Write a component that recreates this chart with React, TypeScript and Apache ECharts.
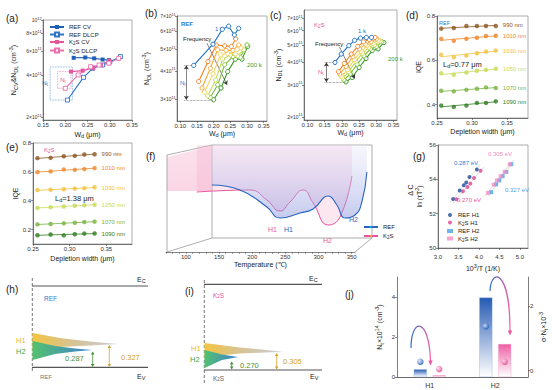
import React, { useEffect, useRef } from 'react';
import * as echarts from 'echarts';

const FONT = '"Liberation Sans", Arial, Helvetica, sans-serif';
const BLUE = '#1f5fb8';
const PINK = '#e8559c';
const LBLUE = '#4ea3e2';
const LPINK = '#f38fc4';
const L = (v: number) => Math.log10(v);

// ---------- (a) CV / DLCP ----------
const aXTicks = [0.15, 0.2, 0.25, 0.3, 0.35];
const aYTicks = [2, 4, 6, 8, 10]; // x10^11 cm^-3
const aRefCvX = [0.219, 0.245, 0.265, 0.284, 0.298];
const aRefCvY = [5.35, 5.38, 5.3, 5.2, 5.15];
const aRefDlX = [0.205, 0.241, 0.262, 0.284, 0.3, 0.324];
const aRefDlY = [2.66, 3.87, 4.5, 4.75, 5.0, 5.46];
const aK2sCvX = [0.213, 0.239, 0.262, 0.28, 0.298];
const aK2sCvY = [4.26, 4.33, 4.5, 4.75, 5.1];
const aK2sDlX = [0.2, 0.229, 0.257, 0.276, 0.298, 0.32];
const aK2sDlY = [3.23, 4.03, 4.62, 4.75, 4.89, 5.3];

// ---------- (b) REF DLCP vs frequency ----------
const freqColors = ['#1f6fc5', '#f08424', '#f5ac3a', '#f3d35c', '#c2d94e', '#7bbf3c', '#3a9a2a'];
const bXTicks = [0.1, 0.15, 0.2, 0.25, 0.3, 0.35];
const bYTicks = [3, 4, 5, 6, 7];
const bX = [
  [0.14, 0.198, 0.226, 0.245, 0.262, 0.275],
  [0.155, 0.183, 0.208, 0.233, 0.253, 0.266],
  [0.165, 0.19, 0.212, 0.237, 0.258, 0.275],
  [0.172, 0.198, 0.22, 0.242, 0.265, 0.282],
  [0.182, 0.206, 0.227, 0.25, 0.272, 0.29],
  [0.19, 0.212, 0.233, 0.258, 0.28, 0.3],
  [0.2, 0.222, 0.242, 0.265, 0.285, 0.302],
];
const bY = [
  [4.23, 5.25, 6.11, 6.31, 5.77, 6.17],
  [3.59, 4.4, 5.21, 5.16, 5.13, 5.54],
  [3.36, 4.11, 4.96, 4.93, 4.93, 5.21],
  [3.22, 3.88, 4.71, 4.79, 4.76, 5.05],
  [3.1, 3.65, 4.51, 4.71, 4.66, 4.96],
  [3.05, 3.47, 4.26, 4.63, 4.6, 5.21],
  [2.98, 3.36, 3.97, 4.51, 4.51, 5.13],
];

// ---------- (c) K2S DLCP vs frequency ----------
const cYTicks = [2, 3, 4, 5, 6, 7];
const cX = [
  [0.18, 0.198, 0.22, 0.237, 0.254, 0.271, 0.286],
  [0.19, 0.207, 0.227, 0.246, 0.263, 0.28, 0.296],
  [0.194, 0.212, 0.232, 0.251, 0.268, 0.285, 0.301],
  [0.198, 0.216, 0.236, 0.256, 0.273, 0.29, 0.306],
  [0.202, 0.22, 0.24, 0.26, 0.278, 0.295, 0.311],
  [0.206, 0.224, 0.244, 0.264, 0.283, 0.3, 0.316],
  [0.212, 0.23, 0.25, 0.27, 0.288, 0.305, 0.322],
];
const cY = [
  [4.0, 4.45, 4.95, 5.3, 5.45, 5.5, 5.5],
  [3.55, 3.95, 4.45, 4.9, 5.2, 5.35, 5.5],
  [3.45, 3.8, 4.3, 4.75, 5.05, 5.2, 5.4],
  [3.35, 3.65, 4.15, 4.6, 4.95, 5.1, 5.3],
  [3.28, 3.55, 4.05, 4.5, 4.85, 5.0, 5.25],
  [3.2, 3.45, 3.9, 4.35, 4.75, 4.9, 5.2],
  [3.12, 3.3, 3.75, 4.2, 4.65, 4.75, 5.15],
];

// ---------- (d)/(e) IQE ----------
const wlNames = ['990 nm', '1010 nm', '1030 nm', '1050 nm', '1070 nm', '1090 nm'];
const wlColors = ['#8e5520', '#f0862a', '#f3c13f', '#c8da55', '#79b443', '#2f7d21'];
const iqeXTicks = [0.25, 0.3, 0.35];
const dYTicks = [0.4, 0.6, 0.8];
const eYTicks = [0.2, 0.4, 0.6, 0.8];
const dX = [0.256, 0.274, 0.292, 0.307, 0.32, 0.334];
const dY = [
  [0.743, 0.746, 0.755, 0.755, 0.755, 0.755],
  [0.697, 0.688, 0.697, 0.702, 0.71, 0.711],
  [0.625, 0.614, 0.622, 0.632, 0.64, 0.644],
  [0.542, 0.535, 0.545, 0.553, 0.557, 0.562],
  [0.463, 0.46, 0.467, 0.472, 0.478, 0.475],
  [0.396, 0.39, 0.396, 0.408, 0.408, 0.415],
];
const eX = [0.256, 0.274, 0.292, 0.307, 0.32, 0.334];
const eY = [
  [0.695, 0.697, 0.708, 0.711, 0.72, 0.722],
  [0.598, 0.603, 0.617, 0.614, 0.619, 0.626],
  [0.474, 0.476, 0.479, 0.484, 0.487, 0.493],
  [0.35, 0.355, 0.36, 0.365, 0.368, 0.372],
  [0.236, 0.239, 0.243, 0.247, 0.252, 0.255],
  [0.161, 0.166, 0.16, 0.168, 0.172, 0.173],
];

// ---------- (f) DLTS-like spectra ----------
const fTicks = [100, 150, 200, 250, 300, 350];
const fRefT = [117, 162, 205, 226, 258, 279, 303, 317, 330, 346, 357, 365];
const fRefV = [53, 48, 31, 20, 25, 29, 42, 33, 20, 23, 36, 66];
const fK2sT = [93, 178, 205, 226, 242, 263, 279, 303, 322, 341];
const fK2sV = [46, 48, 38, 27, 36, 48, 35, 13, 21, 62];

// ---------- (g) Arrhenius ----------
const gXTicks = [3.0, 3.5, 4.0, 4.5, 5.0];
const gRefH1X = [3.37, 3.53, 3.63, 3.69, 3.77, 3.95];
const gRefH1Y = [52.86, 53.35, 53.65, 53.81, 54.14, 54.57];
const gK2sH1X = [3.45, 3.61, 3.72, 3.79, 3.88, 4.04];
const gK2sH1Y = [52.84, 53.31, 53.55, 53.75, 54.08, 54.5];
const gRefH2X = [4.3, 4.42, 4.5, 4.58, 4.67, 4.79];
const gRefH2Y = [53.25, 53.71, 53.94, 54.18, 54.43, 54.88];
const gK2sH2X = [4.22, 4.36, 4.44, 4.53, 4.63, 4.75];
const gK2sH2Y = [53.21, 53.69, 53.94, 54.18, 54.43, 54.88];

// ---------- (j) trap densities ----------
const jCats = ['H1', 'H2'];
const jLeftTicks = [0, 2, 4];
const jRightTicks = [0, 2];
const jRefNt = [0.38, 3.97];
const jK2sNt = [0.08, 1.65];
const jRefSig = [0.27, 1.37];
const jK2sSig = [0.045, 0.27];

const RICH = {
  sup: { fontSize: 4.5, padding: [0, 0, 4, 0] },
  sub: { fontSize: 4.5, padding: [3, 0, 0, 0] },
};
const RICHS = {
  sup: { fontSize: 3.8, padding: [0, 0, 3, 0] },
  sub: { fontSize: 3.8, padding: [3, 0, 0, 0] },
};
const RICH2 = {
  sup: { fontSize: 5.5, padding: [0, 0, 5, 0] },
  sub: { fontSize: 5.5, padding: [4, 0, 0, 0] },
};

const pair = (xs: number[], ys: number[], f = (v: number) => v) => xs.map((x, i) => [x, f(ys[i])]);

function fit(xs: number[], ys: number[], x0: number, x1: number) {
  const n = xs.length;
  const mx = xs.reduce((a, b) => a + b, 0) / n;
  const my = ys.reduce((a, b) => a + b, 0) / n;
  let sxy = 0, sxx = 0;
  for (let i = 0; i < n; i++) { sxy += (xs[i] - mx) * (ys[i] - my); sxx += (xs[i] - mx) ** 2; }
  const b = sxy / sxx;
  const a = my - b * mx;
  return [[x0, a + b * x0], [x1, a + b * x1]];
}

const lab = { fontSize: 6, color: '#333', fontFamily: FONT, margin: 2, rich: RICH };
const axLine = { show: true, onZero: false, lineStyle: { color: '#444', width: 0.7 } };
const tick = (vals?: number[]) => ({ show: true, length: 2, lineStyle: { color: '#444', width: 0.6 }, ...(vals ? { customValues: vals } : {}) });
const nameStyle = (size = 7) => ({ fontSize: size, color: '#222', fontFamily: FONT, rich: RICH2 });

function vAxis(grid: number, min: number, max: number, ticks: number[], fmt: any, name?: string, nameGap?: number, extra: any = {}) {
  return {
    type: 'value', gridIndex: grid, min, max,
    axisLine: axLine, axisTick: tick(ticks),
    axisLabel: { ...lab, customValues: ticks, formatter: fmt },
    splitLine: { show: false },
    name, nameLocation: 'middle', nameGap, nameTextStyle: nameStyle(7),
    ...extra,
  };
}
const f2 = (v: number) => v.toFixed(2);
const f1 = (v: number) => v.toFixed(1);
const logFmt = (v: number) => {
  const m = Math.round(Math.pow(10, v));
  return m === 10 ? '10{sup|12}' : `${m}×10{sup|11}`;
};
const logLab = (ticks: number[]) => ({ axisLabel: { ...lab, fontSize: 5, rich: RICHS, margin: 1.5, customValues: ticks, formatter: logFmt } });
const k2s = (s: string) => s.replace('K2S', 'K{sub|2}S');

const T = (text: string, x: number, y: number, o: any = {}) => ({
  type: 'text', x, y, rotation: o.rot || 0, silent: true,
  style: {
    text, fill: o.color || '#222', fontSize: o.size || 6, fontFamily: FONT,
    fontWeight: o.weight || 'normal', align: o.align || 'left', verticalAlign: 'middle',
    rich: o.size && o.size >= 7 ? RICH2 : RICH,
  },
});
const Ln = (x1: number, y1: number, x2: number, y2: number, stroke: string, lw = 0.8, dash?: number[]) => ({
  type: 'line', silent: true, shape: { x1, y1, x2, y2 }, style: { stroke, lineWidth: lw, lineDash: dash },
});
function dArrow(x: number, y1: number, y2: number, color: string) {
  return [
    Ln(x, y1 + 2, x, y2 - 2, color, 0.8),
    { type: 'polygon', silent: true, shape: { points: [[x - 1.8, y1 + 3], [x + 1.8, y1 + 3], [x, y1]] }, style: { fill: color } },
    { type: 'polygon', silent: true, shape: { points: [[x - 1.8, y2 - 3], [x + 1.8, y2 - 3], [x, y2]] }, style: { fill: color } },
  ];
}
const grad = (x2: number, y2: number, c0: string, c1: string) =>
  new echarts.graphic.LinearGradient(0, 0, x2, y2, [{ offset: 0, color: c0 }, { offset: 1, color: c1 }]);

function buildOption() {
  const gridBase = { show: true, borderColor: '#777', borderWidth: 0.6, backgroundColor: 'transparent', outerBoundsMode: 'none', containLabel: false };
  const grid = [
    { ...gridBase, left: 43, top: 20, width: 89, height: 100 },   // a
    { ...gridBase, left: 177, top: 16, width: 90, height: 105 },  // b
    { ...gridBase, left: 304, top: 10, width: 93, height: 110 },  // c
    { ...gridBase, left: 437, top: 16, width: 91, height: 102 },  // d
    { ...gridBase, left: 33, top: 143, width: 99, height: 101 },  // e
    { ...gridBase, show: false, left: 170, top: 145, width: 200, height: 93 }, // f curves
    { ...gridBase, show: false, left: 166, top: 150, width: 189, height: 102 }, // f front axis
    { ...gridBase, left: 438, top: 145, width: 90, height: 103 }, // g
    { ...gridBase, show: false, left: 397, top: 277, width: 131, height: 100 }, // j
  ];

  const xAxis: any[] = [
    vAxis(0, 0.15, 0.35, aXTicks, f2, 'W{sub|d} (μm)', 9),
    vAxis(1, 0.09, 0.36, bXTicks, f2, 'W{sub|d} (μm)', 7),
    vAxis(2, 0.09, 0.36, bXTicks, f2, 'W{sub|d} (μm)', 7),
    vAxis(3, 0.25, 0.38, iqeXTicks, f2, 'Depletion width (μm)', 10),
    vAxis(4, 0.25, 0.385, iqeXTicks, f2, 'Depletion width (μm)', 11),
    { type: 'value', gridIndex: 5, min: 50, max: 370, show: false },
    vAxis(6, 70, 355, fTicks, (v: number) => String(v), 'Temperature (℃)', 9, {
      axisTick: { show: true, length: 2, lineStyle: { color: '#555', width: 0.5 }, customValues: Array.from({ length: 29 }, (_, i) => 70 + i * 10) },
      axisLine: { show: true, onZero: false, lineStyle: { color: '#666', width: 0.8 } },
    }),
    vAxis(7, 3.0, 5.2, gXTicks, f1, '10{sup|3}/T (1/K)', 15, { axisLabel: { ...lab, margin: 6, customValues: gXTicks, formatter: f1 } }),
    {
      type: 'category', gridIndex: 8, data: jCats,
      axisLine: { show: true, lineStyle: { color: '#444', width: 0.8 } },
      axisTick: { show: false },
      axisLabel: { fontSize: 7, color: '#333', fontFamily: FONT, margin: 5 },
    },
  ];

  const yAxis: any[] = [
    vAxis(0, 0.2816, 1, aYTicks.map(L), logFmt, 'N{sub|CV}&N{sub|DL} (cm{sup|-3})', 24, logLab(aYTicks.map(L))),
    vAxis(1, L(2.4), L(7), bYTicks.map(L), logFmt, 'N{sub|DL} (cm{sup|-3})', 25, logLab(bYTicks.map(L))),
    vAxis(2, L(1.92), L(7.8), cYTicks.map(L), logFmt, 'N{sub|DL} (cm{sup|-3})', 18, logLab(cYTicks.map(L))),
    vAxis(3, 0.34, 0.8, dYTicks, f1, 'IQE', 15),
    vAxis(4, 0.1, 0.8, eYTicks, f1, 'IQE', 10),
    { type: 'value', gridIndex: 5, min: 0, max: 93, show: false },
    { type: 'value', gridIndex: 6, min: 0, max: 1, show: false },
    vAxis(7, 50, 56, [50, 52, 54, 56], (v: number) => String(v), 'ln (τT{sup|2})', 13),
    vAxis(8, 0, 5, jLeftTicks, (v: number) => String(v), 'N{sub|t}×10{sup|14} (cm{sup|-3})', 12),
    vAxis(8, -0.2, 2.9, jRightTicks, (v: number) => String(v), 'σ·N{sub|t}×10{sup|-3}', 10, { position: 'right', nameRotate: 90 }),
  ];

  const series: any[] = [];
  // (a)
  const aSer = (name: string, xs: number[], ys: number[], color: string, open: boolean, extra: any = {}) => ({
    type: 'line', name, xAxisIndex: 0, yAxisIndex: 0, data: pair(xs, ys, L),
    symbol: 'rect', symbolSize: 4,
    itemStyle: open ? { color: '#fff', borderColor: color, borderWidth: 0.9 } : { color },
    lineStyle: { color, width: 1.1 }, ...extra,
  });
  series.push(aSer('REF CV', aRefCvX, aRefCvY, BLUE, false));
  series.push(aSer('REF DLCP', aRefDlX, aRefDlY, '#2f74c8', true, {
    markArea: {
      silent: true,
      itemStyle: { color: 'rgba(0,0,0,0)', borderColor: '#5b9bd5', borderWidth: 0.8, borderType: 'dotted' },
      label: { show: true, position: 'left', formatter: 'N{sub|t}', fontSize: 6, color: '#2a6ab8', rich: RICH, distance: 2, fontFamily: FONT },
      data: [[{ coord: [0.166, L(2.66)] }, { coord: [0.216, L(4.6)] }]],
    },
  }));
  series.push(aSer('K2S CV', aK2sCvX, aK2sCvY, PINK, false));
  series.push(aSer('K2S DLCP', aK2sDlX, aK2sDlY, '#ee6fb0', true, {
    markArea: {
      silent: true,
      itemStyle: { color: 'rgba(0,0,0,0)', borderColor: '#ee7fb5', borderWidth: 0.8, borderType: 'dotted' },
      label: { show: true, position: 'insideLeft', formatter: 'N{sub|t}', fontSize: 6, color: PINK, rich: RICH, distance: 3, fontFamily: FONT },
      data: [[{ coord: [0.183, L(3.23)] }, { coord: [0.213, L(4.26)] }]],
    },
  }));

  // (b) and (c)
  const dotted = { type: 'dotted', color: '#666', width: 0.7 };
  const freqSeries = (grid: number, xs: number[][], ys: number[][], marks: any) => {
    xs.forEach((xArr, i) => {
      const c = freqColors[i];
      series.push({
        type: 'line', name: `f${grid}-${i}`, xAxisIndex: grid, yAxisIndex: grid,
        data: pair(xArr, ys[i], L), symbol: 'circle', symbolSize: 4.2,
        itemStyle: { color: '#fff', borderColor: c, borderWidth: 1 },
        lineStyle: { color: c, width: 1.1 }, z: 10 - i,
        ...(i === 0 ? { markLine: marks } : {}),
      });
    });
  };
  const mkMarks = (nx0: number, nx1: number, nx2: number, yTop: number, yBot: number, ax: number, fr: number[][]) => ({
    silent: true, symbol: ['none', 'none'], label: { show: false }, lineStyle: dotted,
    data: [
      [{ coord: [nx0, L(yTop)] }, { coord: [nx1, L(yTop)] }],
      [{ coord: [nx0, L(yBot)] }, { coord: [nx2, L(yBot)] }],
      [{ coord: [ax, L(yTop)], symbol: 'arrow', symbolSize: 4, lineStyle: { type: 'solid', color: '#333', width: 0.6 } },
       { coord: [ax, L(yBot)], symbol: 'arrow', symbolSize: 4 }],
      [{ coord: [fr[0][0], L(fr[0][1])], lineStyle: { type: 'solid', color: '#333', width: 0.6 } },
       { coord: [fr[1][0], L(fr[1][1])], symbol: 'arrow', symbolSize: 4 }],
    ],
  });
  freqSeries(1, bX, bY, mkMarks(0.112, 0.14, 0.2, 4.23, 2.98, 0.118, [[0.18, 5.3], [0.24, 3.47]]));
  freqSeries(2, cX, cY, mkMarks(0.15, 0.18, 0.212, 4.0, 3.12, 0.155, [[0.193, 4.87], [0.237, 3.26]]));

  // (d) and (e)
  const iqe = (grid: number, xs: number[], ys: number[][]) => {
    ys.forEach((yArr, i) => {
      const c = wlColors[i];
      series.push({
        type: 'scatter', name: `s${grid}-${i}`, xAxisIndex: grid, yAxisIndex: grid,
        data: pair(xs, yArr), symbol: 'circle', symbolSize: 4.5, itemStyle: { color: c },
      });
      series.push({
        type: 'line', name: `l${grid}-${i}`, xAxisIndex: grid, yAxisIndex: grid,
        data: fit(xs, yArr, xs[0], xs[xs.length - 1]), symbol: 'none',
        lineStyle: { color: c, width: 0.8 },
        endLabel: { show: true, formatter: wlNames[i], fontSize: 6, color: c, distance: 7, fontFamily: FONT },
      });
    });
  };
  iqe(3, dX, dY);
  iqe(4, eX, eY);

  // (f)
  series.push({
    type: 'line', name: 'K2S', xAxisIndex: 5, yAxisIndex: 5, data: pair(fK2sT, fK2sV),
    smooth: 0.5, symbol: 'none', lineStyle: { color: PINK, width: 1 },
    areaStyle: { origin: 'end', color: 'rgba(244,165,200,0.4)' }, z: 3,
  });
  series.push({
    type: 'line', name: 'REF', xAxisIndex: 5, yAxisIndex: 5, data: pair(fRefT, fRefV),
    smooth: 0.5, symbol: 'none', lineStyle: { color: '#2a64c0', width: 1.1 },
    areaStyle: { origin: 'end', color: grad(0, 1, 'rgba(232,234,250,0.5)', 'rgba(130,140,218,0.65)') }, z: 4,
  });

  // (g)
  const gSer = (name: string, xs: number[], ys: number[], color: string, symbol: string) => {
    series.push({
      type: 'scatter', name, xAxisIndex: 7, yAxisIndex: 7, data: pair(xs, ys),
      symbol, symbolSize: 4, itemStyle: { color }, z: 5,
    });
    series.push({
      type: 'line', name: `fit-${name}`, xAxisIndex: 7, yAxisIndex: 7,
      data: fit(xs, ys, xs[0] - 0.08, xs[xs.length - 1] + 0.08), symbol: 'none',
      lineStyle: { color: '#999', width: 0.6, type: 'dotted' }, z: 2,
    });
  };
  gSer('REF H1', gRefH1X, gRefH1Y, '#1d4f9e', 'circle');
  gSer('K2S H1', gK2sH1X, gK2sH1Y, '#e0448f', 'circle');
  gSer('REF H2', gRefH2X, gRefH2Y, LBLUE, 'rect');
  gSer('K2S H2', gK2sH2X, gK2sH2Y, LPINK, 'rect');

  // (j)
  series.push({
    type: 'bar', name: 'REF Nt', xAxisIndex: 8, yAxisIndex: 8, data: jRefNt, barWidth: 13, barGap: '45%',
    itemStyle: { color: grad(0, 1, '#2459b3', 'rgba(255,255,255,0.95)'), borderColor: '#8fb0e0', borderWidth: 0.4 },
  });
  series.push({
    type: 'bar', name: 'K2S Nt', xAxisIndex: 8, yAxisIndex: 8, data: jK2sNt, barWidth: 13,
    itemStyle: { color: grad(0, 1, '#ee5fa4', 'rgba(255,255,255,0.95)'), borderColor: '#f3a5c9', borderWidth: 0.4 },
  });
  series.push({
    type: 'scatter', name: 'REF sig', xAxisIndex: 8, yAxisIndex: 9, data: jRefSig, symbolSize: 6.5, symbolOffset: [-9.4, 0],
    itemStyle: { color: new echarts.graphic.RadialGradient(0.35, 0.35, 0.65, [{ offset: 0, color: '#d6e6ff' }, { offset: 1, color: '#1f5db5' }]) }, z: 6,
  });
  series.push({
    type: 'scatter', name: 'K2S sig', xAxisIndex: 8, yAxisIndex: 9, data: jK2sSig, symbolSize: 6.5, symbolOffset: [9.4, 0],
    itemStyle: { color: new echarts.graphic.RadialGradient(0.35, 0.35, 0.65, [{ offset: 0, color: '#ffe0ef' }, { offset: 1, color: '#e2448f' }]) }, z: 6,
  });

  const legBase = { orient: 'vertical', itemGap: 1.5, itemWidth: 14, itemHeight: 5, textStyle: { fontSize: 6, color: '#222', fontFamily: FONT, rich: RICH }, formatter: (n: string) => k2s(n), selectedMode: false };
  const legend = [
    { ...legBase, left: 44, top: 19, data: ['REF CV', 'REF DLCP', 'K2S CV', 'K2S DLCP'] },
    { ...legBase, left: 358, top: 219, itemGap: 3, itemHeight: 3, data: ['REF', 'K2S'] },
    { ...legBase, left: 442, top: 207, itemGap: 1.5, itemWidth: 6, itemHeight: 4, data: ['REF H1', 'K2S H1', 'REF H2', 'K2S H2'] },
  ];

  const gray = '#999';
  const graphic: any[] = [
    // panel labels
    T('(a)', 6, 18, { size: 10 }), T('(b)', 145, 13, { size: 10 }), T('(c)', 270, 15, { size: 10 }),
    T('(d)', 406, 15, { size: 10 }), T('(e)', 6, 147, { size: 10 }), T('(f)', 146, 156, { size: 10 }),
    T('(g)', 413, 156, { size: 10 }), T('(h)', 6, 289, { size: 10 }), T('(i)', 185, 291, { size: 10 }),
    T('(j)', 345, 294, { size: 10 }),
    // (b) annotations
    T('REF', 181, 24, { color: '#2f7bd0', size: 6, weight: 'bold' }),
    T('1 k', 215, 29, { color: '#1f6fc5' }),
    T('Frequency', 183, 39, { color: '#222' }),
    T('N{sub|t}', 180, 83, { color: '#2f7bd0' }),
    T('200 k', 247, 65, { color: '#3a9a2a' }),
    // (c) annotations
    T('K{sub|2}S', 314, 25, { color: PINK }),
    T('1 k', 358, 31, { color: '#1f6fc5' }),
    T('Frequency', 315, 44, { color: '#222' }),
    T('N{sub|t}', 318, 72, { color: PINK }),
    T('200 k', 388, 59, { color: '#3a9a2a' }),
    // (d)/(e)
    T('REF', 439, 23, { color: '#2f7bd0', size: 5.5 }),
    T('L{sub|d}=0.77 μm', 443, 64, { size: 7.5 }),
    T('K{sub|2}S', 44, 150, { color: PINK, size: 6 }),
    T('L{sub|d}=1.38 μm', 55, 198, { size: 7.5 }),
    // (f) box
    { type: 'polyline', silent: true, shape: { points: [[212, 238], [212, 145], [372, 145], [372, 238], [212, 238]] }, style: { stroke: gray, lineWidth: 0.8, fill: null } },
    { type: 'polygon', silent: true, shape: { points: [[167, 157], [211.5, 146], [211.5, 191], [167, 191]] }, style: { fill: grad(0, 1, 'rgba(246,195,215,0.5)', 'rgba(247,180,207,0.55)') } },
    Ln(167, 155, 212, 145, gray), Ln(167, 155, 167, 252, gray), Ln(167, 252, 212, 238, gray), Ln(355, 252, 372, 238, gray),
    T('H1', 268, 229, { color: PINK, size: 7 }), T('H1', 284, 229, { color: '#2a64c0', size: 7 }),
    T('H2', 323, 240, { color: PINK, size: 7 }), T('H2', 349, 219, { color: '#2a64c0', size: 7 }),
    // (g)
    T('Δ C', 410, 190, { size: 7, rot: Math.PI / 2, align: 'center' }),
    T('0.287 eV', 454, 163, { color: '#2f7bd0' }),
    T('0.270 eV', 457, 200, { color: PINK }),
    T('0.305 eV', 488, 154, { color: LPINK }),
    T('0.327 eV', 505, 190, { color: LBLUE }),
    // (h)
    Ln(32.3, 278, 32.3, 372, '#777', 1, [3, 2]),
    Ln(32, 286, 148, 286, '#555', 1.2), Ln(32, 367.3, 148, 367.3, '#555', 1.2),
    T('E{sub|C}', 137, 279, { size: 7 }), T('E{sub|V}', 137, 376, { size: 7 }),
    T('REF', 44, 298, { color: '#2f7bd0', size: 6.5 }),
    { type: 'polygon', silent: true, shape: { points: [[32.5, 333], [60, 338], [90, 341.5], [118, 344], [90, 345.5], [60, 347], [32.5, 350]] }, style: { fill: grad(1, 0, '#f6c640', 'rgba(150,150,160,0.45)') } },
    { type: 'polygon', silent: true, shape: { points: [[32.5, 341], [55, 346], [75, 348.5], [92, 350], [75, 351.5], [55, 354], [32.5, 360]] }, style: { fill: grad(1, 0, '#52c26e', '#3e7fd5') } },
    T('H1', 16, 340, { color: '#eab525', size: 7.5 }), T('H2', 16, 351, { color: '#3aa64a', size: 7.5 }),
    ...dArrow(92.7, 351.5, 367, '#4a8f3a'), ...dArrow(109.3, 345, 367, '#d4a22a'),
    T('0.287', 65, 358, { color: '#4a8f3a', size: 7.5 }), T('0.327', 121, 357, { color: '#d4a22a', size: 7.5 }),
    T('REF', 40, 377, { color: '#777', size: 6 }),
    // (i)
    Ln(204.3, 280, 204.3, 383, '#777', 1, [3, 2]),
    Ln(204, 284.3, 322, 284.3, '#555', 1.2), Ln(204, 370, 322, 370, '#555', 1.2),
    T('E{sub|C}', 309, 278, { size: 7 }), T('E{sub|V}', 310, 376, { size: 7 }),
    T('K{sub|2}S', 213, 295, { color: PINK, size: 6.5 }),
    { type: 'polygon', silent: true, shape: { points: [[204.5, 343], [240, 347.5], [283, 351.7], [240, 353.5], [204.5, 357]] }, style: { fill: grad(1, 0, '#f6c640', 'rgba(150,150,160,0.45)') } },
    { type: 'polygon', silent: true, shape: { points: [[204.5, 350], [222, 354.5], [238, 357], [222, 360], [204.5, 368]] }, style: { fill: grad(1, 0, '#52c26e', '#3e7fd5') } },
    T('H1', 191, 348, { color: '#eab525', size: 7.5 }), T('H2', 190, 359, { color: '#3aa64a', size: 7.5 }),
    ...dArrow(231.7, 361.5, 369.5, '#4a8f3a'), ...dArrow(276.7, 353, 369.5, '#d4a22a'),
    T('0.270', 240, 365, { color: '#4a8f3a', size: 7.5 }), T('0.305', 283, 361.5, { color: '#d4a22a', size: 7.5 }),
    T('K{sub|2}S', 213, 378, { color: '#666', size: 6.5 }),
    // (j) arrows
    { type: 'bezierCurve', silent: true, shape: { x1: 411, y1: 348, cpx1: 411, cpy1: 318, cpx2: 429, cpy2: 316, x2: 430.5, y2: 361 }, style: { stroke: grad(1, 0, '#2f6cc6', '#ef5aa2'), lineWidth: 1.2, fill: null } },
    { type: 'polygon', silent: true, shape: { points: [[428.3, 360.5], [432.7, 360.5], [430.5, 365.5]] }, style: { fill: '#ef5aa2' } },
    { type: 'bezierCurve', silent: true, shape: { x1: 490, y1: 291, cpx1: 491, cpy1: 268, cpx2: 510, cpy2: 268, x2: 510, y2: 331 }, style: { stroke: grad(1, 0, '#2f6cc6', '#ef5aa2'), lineWidth: 1.2, fill: null } },
    { type: 'polygon', silent: true, shape: { points: [[507.8, 330.5], [512.2, 330.5], [510, 335.5]] }, style: { fill: '#ef5aa2' } },
  ];

  return {
    animation: false,
    backgroundColor: '#fff',
    textStyle: { fontFamily: FONT },
    grid, xAxis, yAxis, series, legend, graphic,
  };
}

export default function App() {
  const ref = useRef<HTMLDivElement>(null);
  useEffect(() => {
    const chart = echarts.init(ref.current!, null, { renderer: 'svg' });
    chart.setOption(buildOption() as any);
    return () => chart.dispose();
  }, []);
  return <div ref={ref} style={{ position: 'fixed', left: 0, top: 0, width: 552, height: 390, background: '#fff' }} />;
}
